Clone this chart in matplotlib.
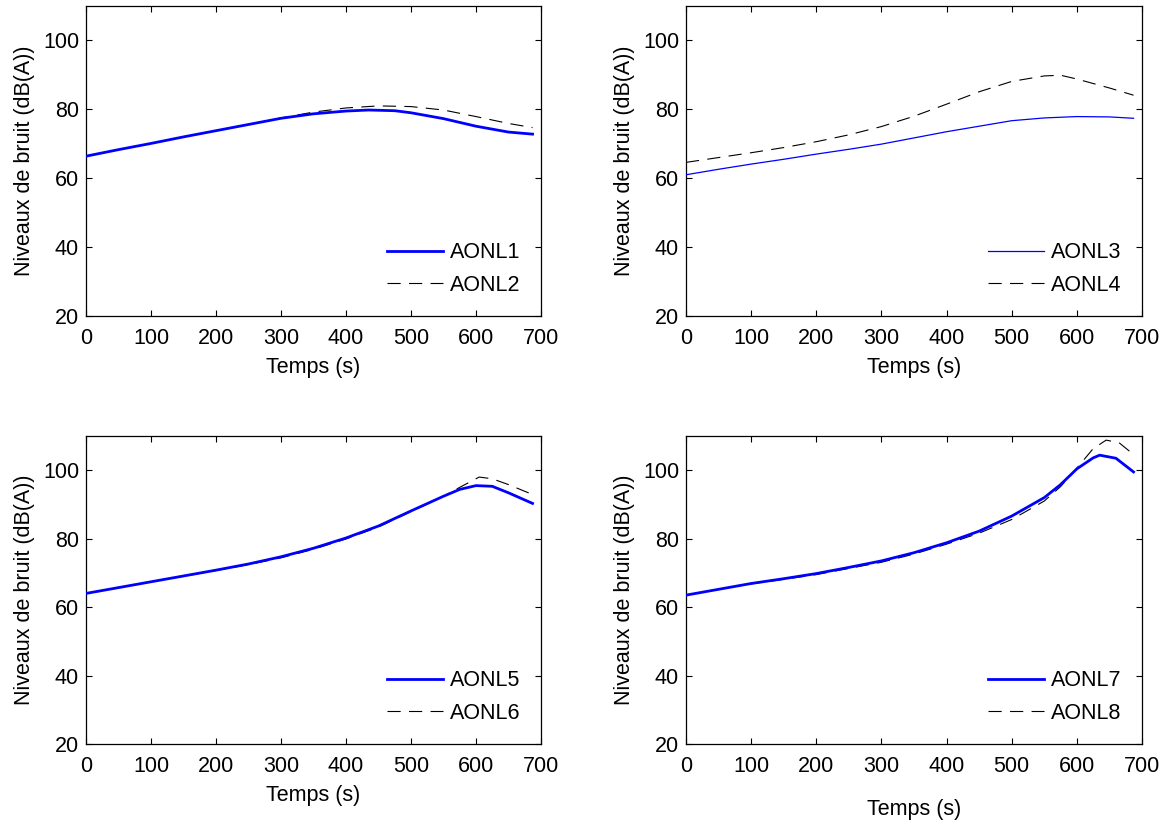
import matplotlib
matplotlib.use("Agg")
import matplotlib.pyplot as plt

plt.rcParams['font.family'] = ['Liberation Sans', 'DejaVu Sans']
plt.rcParams['lines.scale_dashes'] = False

# ---- data ----
t1 = [0, 50, 100, 150, 200, 250, 300, 350, 400, 435, 475, 500, 550, 600, 650, 687]
aonl1 = [66.4, 68.3, 70.1, 72.0, 73.8, 75.6, 77.4, 78.7, 79.5, 79.8, 79.6, 79.0, 77.3, 75.1, 73.4, 72.8]
t2 = [0, 50, 100, 150, 200, 250, 300, 350, 400, 450, 500, 550, 600, 650, 687]
aonl2 = [66.4, 68.3, 70.1, 72.0, 73.8, 75.6, 77.5, 79.2, 80.4, 81.0, 80.8, 79.8, 77.9, 75.9, 74.7]

t3 = [0, 50, 100, 150, 200, 250, 300, 350, 400, 450, 500, 550, 600, 650, 687]
aonl3 = [61.0, 62.6, 64.1, 65.5, 67.0, 68.4, 69.9, 71.7, 73.5, 75.1, 76.7, 77.5, 77.9, 77.8, 77.4]
t4 = [0, 50, 100, 150, 200, 250, 300, 350, 400, 450, 500, 550, 575, 600, 650, 687]
aonl4 = [64.6, 66.0, 67.4, 68.9, 70.6, 72.6, 75.0, 78.0, 81.5, 85.1, 88.1, 89.7, 89.9, 88.8, 86.2, 84.1]

t5 = [0, 50, 100, 150, 200, 250, 300, 350, 400, 450, 500, 550, 575, 600, 625, 650, 687]
aonl5 = [64.0, 65.7, 67.4, 69.1, 70.8, 72.6, 74.7, 77.2, 80.2, 83.7, 88.1, 92.4, 94.4, 95.5, 95.3, 93.4, 90.3]
t6 = [0, 50, 100, 150, 200, 250, 300, 350, 400, 450, 500, 550, 575, 605, 625, 650, 687]
aonl6 = [64.0, 65.7, 67.4, 69.0, 70.7, 72.4, 74.4, 76.9, 79.9, 83.4, 87.9, 92.4, 95.0, 98.0, 97.5, 95.8, 92.9]

t7 = [0, 50, 100, 150, 200, 250, 300, 350, 400, 450, 500, 550, 575, 600, 625, 635, 660, 687]
aonl7 = [63.5, 65.2, 66.9, 68.3, 69.8, 71.6, 73.5, 75.9, 78.8, 82.2, 86.6, 92.0, 95.8, 100.4, 103.6, 104.4, 103.5, 99.5]
t8 = [0, 50, 100, 150, 200, 250, 300, 350, 400, 450, 500, 550, 575, 600, 625, 645, 665, 687]
aonl8 = [63.5, 65.2, 66.8, 68.1, 69.5, 71.3, 73.1, 75.5, 78.4, 81.6, 85.6, 91.0, 95.2, 100.6, 106.3, 108.8, 108.0, 104.6]

xticks = [0, 100, 200, 300, 400, 500, 600, 700]
yticks = [20, 40, 60, 80, 100]
xlabel = "Temps (s)"
ylabel = "Niveaux de bruit (dB(A))"

W, H = 1170, 825
fig = plt.figure(figsize=(W / 100, H / 100), dpi=100)

boxes = [
    (86, 541, 6, 316),
    (686, 1142, 6, 316),
    (86, 541, 436, 744),
    (686, 1142, 436, 744),
]

panels = [
    (t1, aonl1, "AONL1", 2.0, t2, aonl2, "AONL2", 6),
    (t3, aonl3, "AONL3", 0.9, t4, aonl4, "AONL4", 6),
    (t5, aonl5, "AONL5", 2.0, t6, aonl6, "AONL6", 6),
    (t7, aonl7, "AONL7", 2.0, t8, aonl8, "AONL8", 16),
]

FS = 15.5
for (l, r, tp, bt), (ta, ya, la, lwa, tb, yb, lb, xpad) in zip(boxes, panels):
    ax = fig.add_axes([l / W, 1 - bt / H, (r - l) / W, (bt - tp) / H])
    ax.plot(ta, ya, color='#0000ff', lw=lwa, label=la, zorder=3)
    ax.plot(tb, yb, color='black', lw=0.8, linestyle=(0, (9.5, 6.0)), label=lb, zorder=2)
    ax.set_xlim(0, 700)
    ax.set_ylim(20, 110)
    ax.set_xticks(xticks)
    ax.set_yticks(yticks)
    ax.tick_params(direction='in', top=True, right=True, length=4, width=0.8,
                   labelsize=FS)
    ax.tick_params(axis='x', pad=8.5)
    ax.tick_params(axis='y', pad=5)
    for s in ax.spines.values():
        s.set_linewidth(0.9)
    ax.set_xlabel(xlabel, fontsize=FS, labelpad=xpad)
    ax.set_ylabel(ylabel, fontsize=FS, labelpad=6)
    ax.legend(loc='lower right', frameon=False, fontsize=FS, handlelength=2.6,
              handletextpad=0.35, labelspacing=0.52, borderaxespad=0.55)

fig.savefig("out.png", dpi=100)
